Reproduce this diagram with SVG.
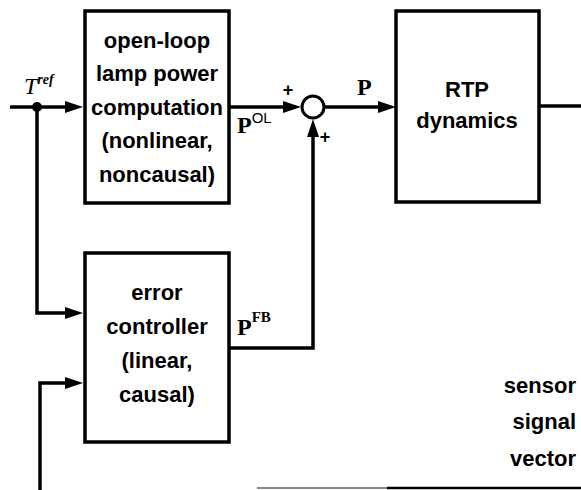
<svg xmlns="http://www.w3.org/2000/svg" width="581" height="490" viewBox="0 0 581 490">
  <style>
    .box { fill: #fff; stroke: #000; stroke-width: 3.5; }
    .wire { fill: none; stroke: #000; stroke-width: 3.5; }
    .lbl { font-family: "Liberation Sans", Arial, sans-serif; font-weight: bold; font-size: 22px; fill: #000; text-anchor: middle; }
    .side { font-family: "Liberation Sans", Arial, sans-serif; font-weight: bold; font-size: 22px; fill: #000; text-anchor: end; }
    .sig { font-family: "Liberation Serif", "Times New Roman", serif; font-weight: bold; font-size: 24px; fill: #000; }
    .sup { font-size: 15px; }
    .sign { font-family: "Liberation Sans", Arial, sans-serif; font-weight: bold; font-size: 18px; fill: #000; text-anchor: middle; }
  </style>
  <defs>
    <marker id="arrow" markerUnits="userSpaceOnUse" markerWidth="18" markerHeight="12" refX="9" refY="6" orient="auto">
      <path d="M0,0 L18,6 L0,12 z" fill="#000"/>
    </marker>
  </defs>

  <rect width="581" height="490" fill="#fff"/>

  <g id="connectors">
    <path class="wire" d="M10,107 H74" marker-end="url(#arrow)"/>
    <path class="wire" d="M37,107 V313 H74" marker-end="url(#arrow)"/>
    <path class="wire" d="M40,490 V383 H74" marker-end="url(#arrow)"/>
    <path class="wire" d="M229,107 H292" marker-end="url(#arrow)"/>
    <path class="wire" d="M325,107 H387" marker-end="url(#arrow)"/>
    <path class="wire" d="M229,348 H313 V128" marker-end="url(#arrow)"/>
    <path class="wire" d="M539,106 H581"/>
    <path d="M257,488 H387" stroke="#888" stroke-width="2" fill="none"/>
    <path d="M387,488 H581" stroke="#000" stroke-width="2.5" fill="none"/>
    <circle cx="37" cy="107" r="5" fill="#000"/>
  </g>

  <g id="tref-label">
    <text x="24" y="94" font-family="Liberation Serif, 'Times New Roman', serif" font-style="italic" font-size="24" fill="#000">T<tspan font-size="14" font-weight="bold" dy="-10">ref</tspan></text>
  </g>

  <g id="open-loop">
    <rect class="box" x="85" y="11" width="144" height="192"/>
    <text class="lbl" x="157" y="48">open-loop</text>
    <text class="lbl" x="157" y="81">lamp power</text>
    <text class="lbl" x="157" y="115">computation</text>
    <text class="lbl" x="157" y="148">(nonlinear,</text>
    <text class="lbl" x="157" y="182">noncausal)</text>
  </g>

  <g id="error-controller">
    <rect class="box" x="85" y="253" width="144" height="189"/>
    <text class="lbl" x="157" y="300">error</text>
    <text class="lbl" x="157" y="334">controller</text>
    <text class="lbl" x="157" y="368">(linear,</text>
    <text class="lbl" x="157" y="402">causal)</text>
  </g>

  <g id="summing-junction">
    <circle cx="313" cy="107" r="11" fill="#fff" stroke="#000" stroke-width="3"/>
    <text class="sign" x="288" y="96">+</text>
    <text class="sign" x="325" y="143">+</text>
  </g>

  <g id="rtp-dynamics">
    <rect class="box" x="396" y="11" width="143" height="191"/>
    <text class="lbl" x="467" y="97">RTP</text>
    <text class="lbl" x="467" y="128">dynamics</text>
  </g>

  <g id="signal-labels">
    <text class="sig" x="237" y="133">P<tspan class="sup" font-family="Liberation Sans, Arial, sans-serif" font-weight="normal" dy="-10">OL</tspan></text>
    <text class="sig" x="357" y="95">P</text>
    <text class="sig" x="237" y="335">P<tspan class="sup" dy="-13">FB</tspan></text>
  </g>

  <g id="sensor-label">
    <text class="side" x="576" y="393">sensor</text>
    <text class="side" x="576" y="429">signal</text>
    <text class="side" x="576" y="466">vector</text>
  </g>
</svg>
